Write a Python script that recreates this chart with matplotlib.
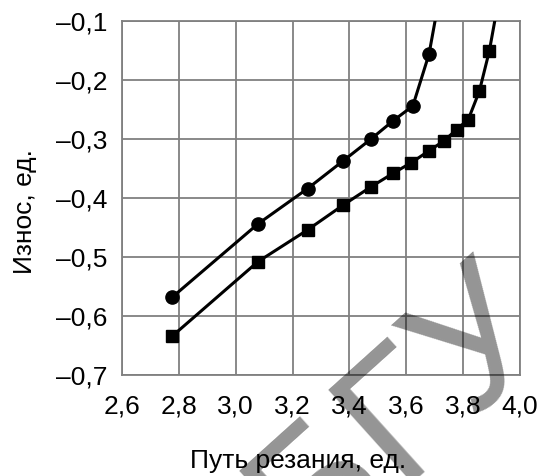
import numpy as np
import matplotlib
matplotlib.use("Agg")
import matplotlib.pyplot as plt
from matplotlib.ticker import FuncFormatter

plt.rcParams['font.family'] = ['Liberation Sans', 'DejaVu Sans']

# circles series
x_circ = [2.777, 3.078, 3.253, 3.378, 3.476, 3.554, 3.623, 3.680, 3.72]
y_circ = [-0.568, -0.444, -0.384, -0.337, -0.300, -0.269, -0.244, -0.156, -0.05]

# squares series
x_sq = [2.777, 3.078, 3.253, 3.378, 3.476, 3.554, 3.618, 3.680, 3.733, 3.777,
        3.818, 3.857, 3.892, 3.93]
y_sq = [-0.634, -0.508, -0.454, -0.412, -0.381, -0.358, -0.340, -0.320, -0.303,
        -0.284, -0.267, -0.219, -0.151, -0.05]

xticks = [2.6, 2.8, 3.0, 3.2, 3.4, 3.6, 3.8, 4.0]
yticks = [-0.7, -0.6, -0.5, -0.4, -0.3, -0.2, -0.1]

fig = plt.figure(figsize=(5.41, 4.76), dpi=100)
ax = fig.add_axes([0.2255, 0.2122, 0.7357, 0.7437])

ax.plot(x_circ, y_circ, color='black', lw=2.2, marker='o', ms=9.5, zorder=3)
ax.plot(x_sq, y_sq, color='black', lw=2.2, marker='s', ms=9, zorder=3)

ax.set_xlim(2.6, 4.0)
ax.set_ylim(-0.7, -0.1)
ax.set_xticks(xticks)
ax.set_yticks(yticks)
ax.xaxis.set_major_formatter(FuncFormatter(lambda v, p: f"{v:.1f}".replace('.', ',')))
ax.yaxis.set_major_formatter(FuncFormatter(lambda v, p: f"{v:.1f}".replace('.', ',').replace('-', '\u2013')))
ax.tick_params(length=0, labelsize=19, colors='black')
ax.tick_params(axis='x', pad=14)
ax.tick_params(axis='y', pad=10.5)
ax.grid(True, color='#808080', lw=1.3)
ax.set_axisbelow(True)
for s in ax.spines.values():
    s.set_color('#808080')
    s.set_linewidth(1.3)

fig.text(298 / 541, 1 - 461 / 476, "Путь резания, ед.", ha='center', va='center', fontsize=19)
fig.text(25 / 541, 1 - 212 / 476, "Износ, ед.", ha='center', va='center', rotation=90, fontsize=19)

# watermark, letters placed along a rotated baseline
for ch, fx, fy in [("Б", 0.6519, -0.1010), ("Г", 0.8016, 0.0521), ("У", 0.9473, 0.2011)]:
    fig.text(fx, fy, ch, fontsize=130, color='black', alpha=0.42, rotation=42,
             rotation_mode='anchor', ha='center', va='baseline', zorder=10)

fig.savefig("out.png", dpi=100)
